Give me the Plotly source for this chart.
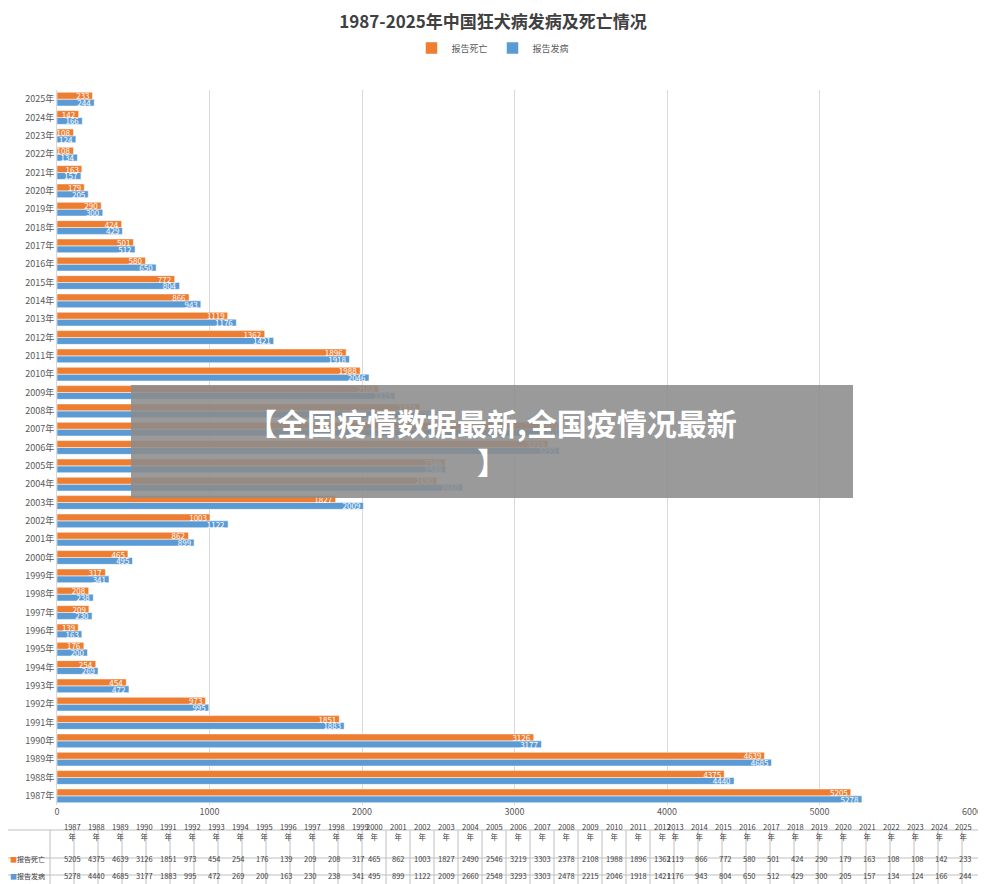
import plotly.graph_objects as go

years = [str(y) for y in range(1987, 2026)]
year_labels = [y + "年" for y in years]
deaths = [5205, 4375, 4639, 3126, 1851, 973, 454, 254, 176, 139, 209, 208, 317, 465, 862,
          1003, 1827, 2490, 2546, 3219, 3303, 2378, 2108, 1988, 1896, 1362, 1119, 866, 772,
          580, 501, 424, 290, 179, 163, 108, 108, 142, 233]
cases = [5278, 4440, 4685, 3177, 1883, 995, 472, 269, 200, 163, 230, 238, 341, 495, 899,
         1122, 2009, 2660, 2548, 3293, 3303, 2478, 2215, 2046, 1918, 1421, 1176, 943, 804,
         650, 512, 429, 300, 205, 157, 134, 124, 166, 244]

ORANGE = "#ED7D31"
BLUE = "#5B9BD5"
W, H = 986, 884
OFF = 8
ML, MR, MT, MB = 57 - OFF, 14 + OFF, 90 - OFF, 87
PW, PH = W - ML - MR, H - MT - MB


def px(x):
    return (x - OFF - ML) / PW


def py(y):
    return (H - MB - y) / PH


fig = go.Figure()
fig.add_trace(go.Bar(y=year_labels, x=cases, name="报告发病", orientation="h",
                     marker=dict(color=BLUE, line=dict(color="white", width=0.5)),
                     text=cases, textposition="inside", insidetextanchor="end",
                     textfont=dict(color="white", size=8), cliponaxis=False))
fig.add_trace(go.Bar(y=year_labels, x=deaths, name="报告死亡", orientation="h",
                     marker=dict(color=ORANGE, line=dict(color="white", width=0.5)),
                     text=deaths, textposition="inside", insidetextanchor="end",
                     textfont=dict(color="white", size=8), cliponaxis=False))

shapes = []
annots = []
# data table below the chart
t_left, t_right = 50, 986
ncol = len(years)
cw = (t_right - t_left) / ncol
rows_y = [822, 850, 867, 883]
line = dict(color="#BFBFBF", width=1)
for yy in rows_y:
    shapes.append(dict(type="line", xref="paper", yref="paper", x0=px(8), x1=px(W),
                       y0=py(yy), y1=py(yy), line=line))
for i in range(ncol + 1):
    xx = t_left + i * cw
    shapes.append(dict(type="line", xref="paper", yref="paper", x0=px(xx), x1=px(xx),
                       y0=py(rows_y[0]), y1=py(rows_y[-1]), line=line))
f = dict(size=7.5, color="#404040", family="Noto Sans CJK SC")
for i, y in enumerate(years):
    cx = px(t_left + (i + 0.5) * cw)
    annots.append(dict(x=cx, y=py(836), xref="paper", yref="paper", text=y + "<br>年",
                       showarrow=False, font=f))
    annots.append(dict(x=cx, y=py(858.5), xref="paper", yref="paper", text=str(deaths[i]),
                       showarrow=False, font=f))
    annots.append(dict(x=cx, y=py(875.5), xref="paper", yref="paper", text=str(cases[i]),
                       showarrow=False, font=f))
annots.append(dict(x=px(8), y=py(858.5), xref="paper", yref="paper", xanchor="left",
                   text="<span style='color:%s'>■</span>报告死亡" % ORANGE, showarrow=False,
                   font=dict(size=7, color="#404040")))
annots.append(dict(x=px(8), y=py(875.5), xref="paper", yref="paper", xanchor="left",
                   text="<span style='color:%s'>■</span>报告发病" % BLUE, showarrow=False,
                   font=dict(size=7, color="#404040")))

# overlay banner
shapes.append(dict(type="rect", xref="paper", yref="paper", x0=px(131), x1=px(853),
                   y0=py(490), y1=py(377), fillcolor="rgba(140,140,140,0.88)", line=dict(width=0)))
annots.append(dict(x=px(492), y=py(433), xref="paper", yref="paper", showarrow=False,
                   text="<b>【全国疫情数据最新,全国疫情况最新<br>】</b>",
                   font=dict(size=30, color="white", family="Noto Sans CJK SC"), align="center"))

fig.update_layout(
    width=W, height=H,
    margin=dict(l=ML, r=MR, t=MT, b=MB),
    paper_bgcolor="white", plot_bgcolor="white",
    title=dict(text="<b>1987-2025年中国狂犬病发病及死亡情况</b>", x=px(493), xanchor="center",
               xref="paper", y=1 - 8 / H, yanchor="top",
               font=dict(size=17, color="#404040", family="Noto Sans CJK SC"), automargin=False),
    legend=dict(orientation="h", x=px(493), xanchor="center", y=py(40), yanchor="middle",
                traceorder="reversed", font=dict(size=9, color="#595959"),
                itemwidth=30),
    barmode="group", bargap=0.25, bargroupgap=0,
    uniformtext=dict(minsize=8, mode="show"),
    font=dict(family="Noto Sans CJK SC", color="#595959"),
    xaxis=dict(range=[0, 6000], dtick=1000, showgrid=True, gridcolor="#D9D9D9",
               zeroline=False, tickfont=dict(size=9), automargin=False),
    yaxis=dict(tickfont=dict(size=9), showline=True, linecolor="#D9D9D9", ticks="",
               automargin=False),
    shapes=shapes, annotations=annots,
)

fig.write_html("out.html")
